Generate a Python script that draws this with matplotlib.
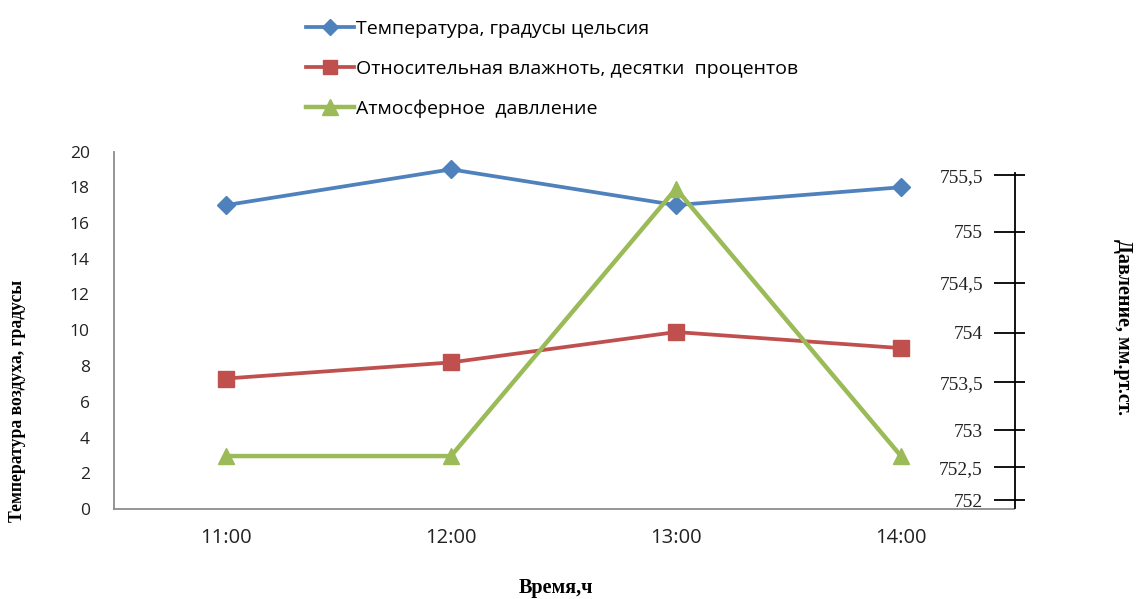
import numpy as np
import matplotlib
matplotlib.use("Agg")
import matplotlib.pyplot as plt
from matplotlib.lines import Line2D

# data
times = ["11:00", "12:00", "13:00", "14:00"]
temperature = [17, 19, 17, 18]
humidity = [7.3, 8.2, 9.9, 9.0]
pressure = [752.65, 752.65, 755.38, 752.65]

left_ticks = [0, 2, 4, 6, 8, 10, 12, 14, 16, 18, 20]
press_ticks = [752, 752.5, 753, 753.5, 754, 754.5, 755, 755.5]
press_labels = ["752", "752,5", "753", "753,5", "754", "754,5", "755", "755,5"]

# the pressure axis in the reference is hand drawn, its ticks are unevenly spaced;
# map pressure -> left axis units through the tick positions
press_knots = [751.5, 752, 752.5, 753, 753.5, 754, 754.5, 755, 755.5, 756]
left_knots = [-1.34, 0.50, 2.34, 4.41, 7.08, 9.87, 12.66, 15.50, 18.68, 21.86]


def fwd(p):
    return np.interp(p, press_knots, left_knots)


def inv(v):
    return np.interp(v, left_knots, press_knots)


blue = "#4F81BD"
red = "#C0504D"
green = "#9BBB59"
sans = ["Open Sans", "DejaVu Sans"]
serif = ["Liberation Serif", "DejaVu Serif"]

fig = plt.figure(figsize=(11.36, 5.99), dpi=100)
W, H = 1136, 599
ax = fig.add_axes([113.5 / W, 1 - 509 / H, 900 / W, (509 - 151.5) / H])

x = np.arange(len(times))
ax.plot(x, temperature, color=blue, lw=2.7, marker="D", ms=9.5, zorder=3)
ax.plot(x, humidity, color=red, lw=2.7, marker="s", ms=11.5, zorder=3)

ax.set_xlim(-0.5, len(times) - 0.5)
ax.set_ylim(0, 20)
ax.set_yticks(left_ticks)
ax.set_xticks(x)
ax.set_xticklabels(times, family=sans, fontsize=14.5, color="#222222")
ax.set_yticklabels([str(t) for t in left_ticks], family=sans, fontsize=12.5, color="#222222")
ax.tick_params(axis="y", length=0, pad=17)
ax.tick_params(axis="x", length=0, pad=14)
for s in ["top", "right"]:
    ax.spines[s].set_visible(False)
for s in ["left", "bottom"]:
    ax.spines[s].set_color("#8c8c8c")
    ax.spines[s].set_linewidth(1.3)

# pressure axis
ax2 = ax.twinx()
ax2.set_yscale("function", functions=(fwd, inv))
ax2.set_ylim(inv(0), inv(20))
ax2.plot(x, pressure, color=green, lw=3.2, marker="^", ms=12, zorder=3)
for s in ["top", "right", "bottom"]:
    ax2.spines[s].set_visible(False)
ax2.spines["left"].set_position(("axes", 1.0015))
ax2.spines["left"].set_color("black")
ax2.spines["left"].set_linewidth(1.3)
ax2.spines["left"].set_bounds(inv(0.06), 755.52)
ax2.yaxis.tick_left()
ax2.set_yticks(press_ticks)
ax2.set_yticklabels(press_labels, family=serif, fontsize=14, color="#222222")
ax2.set_yticks(press_ticks, minor=True)
ax2.yaxis.remove_overlapping_locs = False
ax2.tick_params(axis="y", which="major", direction="out", length=15, width=1.3, pad=8)
ax2.tick_params(axis="y", which="minor", direction="in", length=7, width=1.3)

# legend
handles = [
    Line2D([], [], color=blue, lw=2.7, marker="D", ms=8),
    Line2D([], [], color=red, lw=2.7, marker="s", ms=10),
    Line2D([], [], color=green, lw=3.2, marker="^", ms=11),
]
labels = [
    "Температура, градусы цельсия",
    "Относительная влажноть, десятки  процентов",
    "Атмосферное  давлление",
]
fig.legend(handles, labels, loc="upper left", bbox_to_anchor=(298 / W, 1 - 12 / H),
           frameon=False, prop={"family": sans, "size": 14}, handlelength=2.5,
           handletextpad=0.1, labelspacing=1.13, borderaxespad=0)

# axis titles
fig.text(18 / W, 1 - 401 / H, "Температура воздуха, градусы", rotation=90,
         ha="center", va="center", family=serif, fontsize=12.7, fontweight="bold")
fig.text(1123 / W, 1 - 327 / H, "Давление, мм.рт.ст.", rotation=-90,
         ha="center", va="center", family=serif, fontsize=14.5, fontweight="bold")
fig.text(556 / W, 1 - 588 / H, "Время,ч", ha="center", va="center",
         family=serif, fontsize=14.5, fontweight="bold")

fig.savefig("out.png", dpi=100)
